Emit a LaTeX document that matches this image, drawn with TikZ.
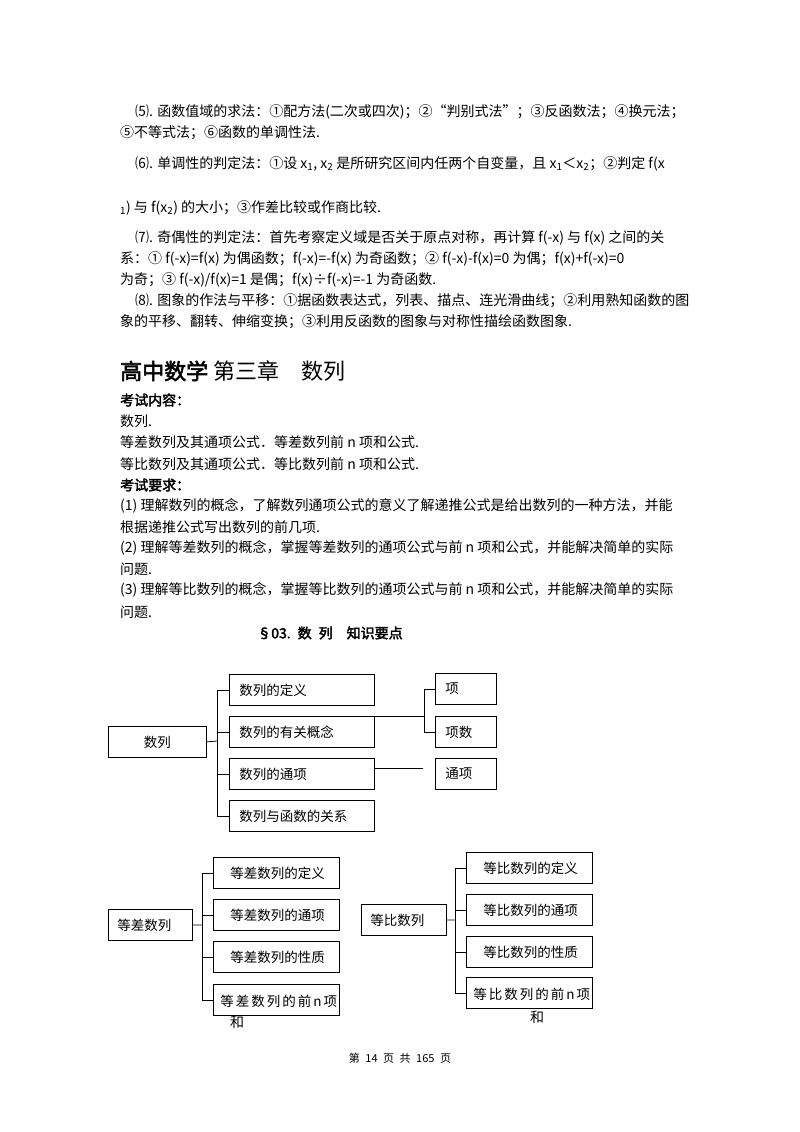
\documentclass[tikz,border=0pt]{standalone}
\usepackage{fontspec}
\setmainfont{Noto Sans CJK SC}[AutoFakeBold=2.5]
\begin{document}
\begin{tikzpicture}[x=1pt,y=-1pt,
  tl/.style={anchor=west,inner sep=0pt,font=\fontsize{14}{15}\selectfont},
  bx/.style={draw,line width=0.8pt,anchor=north west,inner xsep=10pt,inner ysep=0pt,minimum height=31pt,align=left,font=\fontsize{13.5}{15}\selectfont},
  ln/.style={line width=0.8pt}]
\useasboundingbox[fill=white] (0,0) rectangle (800,1132);
% text block
\node[tl] (t1) at (135,112) {⑸. 函数值域的求法：①配方法(二次或四次)；②“判别式法”；③反函数法；④换元法；};
\node[tl] (t2) at (120,133) {⑤不等式法；⑥函数的单调性法.};
\node[tl] (t3) at (135,164) {⑹. 单调性的判定法：①设 x\textsubscript{1}, x\textsubscript{2} 是所研究区间内任两个自变量，且 x\textsubscript{1}＜x\textsubscript{2}；②判定 f(x};
\node[tl] (t4) at (120,208) {\textsubscript{1}) 与 f(x\textsubscript{2}) 的大小；③作差比较或作商比较.};
\node[tl] (t5) at (135,238) {⑺. 奇偶性的判定法：首先考察定义域是否关于原点对称，再计算 f(-x) 与 f(x) 之间的关};
\node[tl] (t6) at (120,259) {系：① f(-x)=f(x) 为偶函数；f(-x)=-f(x) 为奇函数；② f(-x)-f(x)=0 为偶；f(x)+f(-x)=0};
\node[tl] (t7) at (120,280) {为奇；③ f(-x)/f(x)=1 是偶；f(x)÷f(-x)=-1 为奇函数.};
\node[tl] (t8) at (135,301) {⑻. 图象的作法与平移：①据函数表达式，列表、描点、连光滑曲线；②利用熟知函数的图};
\node[tl] (t9) at (120,322) {象的平移、翻转、伸缩变换；③利用反函数的图象与对称性描绘函数图象.};
\node[tl,font=\fontsize{22}{24}\selectfont] (title) at (120,371) {\textbf{高中数学} 第三章\quad 数列};
\node[tl] (k1) at (120,400) {\textbf{考试内容：}};
\node[tl] (k2) at (120,421) {数列.};
\node[tl] (k3) at (120,442) {等差数列及其通项公式．等差数列前 n 项和公式.};
\node[tl] (k4) at (120,464) {等比数列及其通项公式．等比数列前 n 项和公式.};
\node[tl] (k5) at (120,485) {\textbf{考试要求：}};
\node[tl] (k6) at (120,506) {(1) 理解数列的概念，了解数列通项公式的意义了解递推公式是给出数列的一种方法，并能};
\node[tl] (k7) at (120,527) {根据递推公式写出数列的前几项.};
\node[tl] (k8) at (120,548) {(2) 理解等差数列的概念，掌握等差数列的通项公式与前 n 项和公式，并能解决简单的实际};
\node[tl] (k9) at (120,569) {问题.};
\node[tl] (k10) at (120,590) {(3) 理解等比数列的概念，掌握等比数列的通项公式与前 n 项和公式，并能解决简单的实际};
\node[tl] (k11) at (120,612) {问题.};
\node[tl,anchor=center] (sec) at (330,633) {\textbf{§03.\enspace 数\enspace 列\quad 知识要点}};
% diagram 1
\node[bx,minimum width=98pt,align=center,text width=78pt] (s) at (108,726) {数列};
\node[bx,minimum width=145pt,text width=125pt] (a1) at (229,674) {数列的定义};
\node[bx,minimum width=145pt,text width=125pt] (a2) at (229,716) {数列的有关概念};
\node[bx,minimum width=145pt,text width=125pt] (a3) at (229,758) {数列的通项};
\node[bx,minimum width=145pt,text width=125pt] (a4) at (229,800) {数列与函数的关系};
\node[bx,minimum width=61pt,text width=41pt] (b1) at (435,673) {项};
\node[bx,minimum width=61pt,text width=41pt] (b2) at (435,716) {项数};
\node[bx,minimum width=61pt,text width=41pt] (b3) at (435,758) {通项};
\draw[ln] (s.east) -- (217,741) coordinate (sj);
\foreach \n in {a1,a2,a3,a4} \draw[ln] (sj) |- (\n.west);
\draw[ln] (a2.north east) -- (424,716) coordinate (aj);
\draw[ln] (aj) |- (b1.west);
\draw[ln] (aj) |- (b2.west);
\coordinate (ae) at (423,768);
\draw[ln] (a3.east |- ae) -- (ae);
% diagram 2
\node[bx,minimum width=84pt,text width=66pt,inner xsep=9pt] (c) at (108,909) {等差数列};
\node[bx,minimum width=126pt,text width=112pt,inner xsep=7pt] (c1) at (213,857) {\hspace{10pt}等差数列的定义};
\node[bx,minimum width=126pt,text width=112pt,inner xsep=7pt] (c2) at (213,899) {\hspace{10pt}等差数列的通项};
\node[bx,minimum width=126pt,text width=112pt,inner xsep=7pt] (c3) at (213,941) {\hspace{10pt}等差数列的性质};
\node[bx,minimum width=126pt,text width=112pt,inner xsep=7pt] (c4) at (213,984) {\hspace{10pt}等\kern2pt 差\kern2pt 数\kern2pt 列\kern2pt 的\kern2pt 前\kern2pt n\kern2pt 项};
\node[tl] (c4b) at (230,1022) {和};
\draw[ln] (c.east) -- (202,925) coordinate (cj);
\foreach \n in {c1,c2,c3,c4} \draw[ln] (cj) |- (\n.west);
\node[bx,minimum width=85pt,text width=67pt,inner xsep=9pt] (d) at (361,904) {等比数列};
\node[bx,minimum width=126pt,text width=112pt,inner xsep=7pt] (d1) at (466,852) {\hspace{10pt}等比数列的定义};
\node[bx,minimum width=126pt,text width=112pt,inner xsep=7pt] (d2) at (466,894) {\hspace{10pt}等比数列的通项};
\node[bx,minimum width=126pt,text width=112pt,inner xsep=7pt] (d3) at (466,936) {\hspace{10pt}等比数列的性质};
\node[bx,minimum width=126pt,text width=112pt,inner xsep=7pt] (d4) at (466,977) {\hspace{10pt}等\kern2pt 比\kern2pt 数\kern2pt 列\kern2pt 的\kern2pt 前\kern2pt n\kern2pt 项};
\node[tl] (d4b) at (530,1017) {和};
\draw[ln] (d.east) -- (455,920) coordinate (dj);
\foreach \n in {d1,d2,d3,d4} \draw[ln] (dj) |- (\n.west);
\node[tl,anchor=center,font=\fontsize{11}{13}\selectfont] (foot) at (400,1058) {第\enspace 14\enspace 页\enspace 共\enspace 165\enspace 页};
\end{tikzpicture}
\end{document}
